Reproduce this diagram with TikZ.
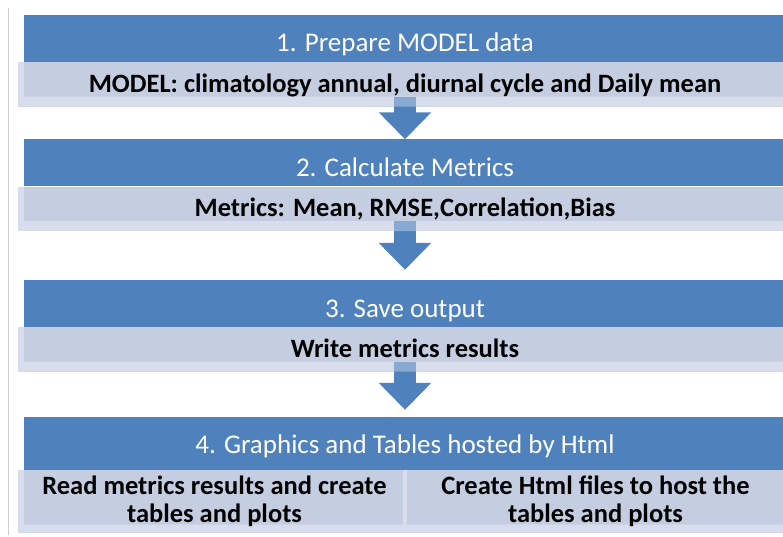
\documentclass[tikz,border=0pt]{standalone}
\usepackage{fontspec}
\setmainfont{Carlito}
\usetikzlibrary{arrows.meta,positioning,backgrounds}

\definecolor{stageblue}{RGB}{79,129,189}
\definecolor{bandgrey}{RGB}{197,206,225}
\definecolor{rulegrey}{RGB}{205,205,205}

\tikzset{
  stagebox/.style={fill=stageblue, text=white, minimum width=762pt, minimum height=47pt,
    inner sep=0pt, text height=27pt, text depth=0pt, font=\fontsize{27}{32}\selectfont},
  bandbox/.style={minimum width=762pt, minimum height=44pt, inner sep=0pt,
    text height=16pt, text depth=0pt, font=\bfseries\fontsize{26.5}{28}\selectfont},
  cellbox/.style={minimum width=381pt, minimum height=62pt, inner sep=0pt, align=center,
    font=\bfseries\fontsize{26.5}{28}\selectfont},
  flow/.style={draw=stageblue, line width=22pt, -{Triangle[width=51pt,length=27pt]}},
  veil/.style={fill=white, fill opacity=.32},
}

\begin{document}
\begin{tikzpicture}[x=1pt,y=-1pt]
\useasboundingbox (0,0) rectangle (783,537);
\draw[rulegrey, line width=1pt] (8,8) -- (8,535);

% stage headers with their bands
\node[stagebox] (s1) at (405,38.5) {1. Prepare MODEL data};
\node[bandbox, below=0pt of s1] (b1) {MODEL: climatology annual, diurnal cycle and Daily mean};

\node[stagebox] (s2) at (405,163) {2. Calculate Metrics};
\node[bandbox, below=0pt of s2] (b2) {Metrics: Mean, RMSE,Correlation,Bias};

\node[stagebox] (s3) at (405,303.5) {3. Save output};
\node[bandbox, below=0pt of s3] (b3) {Write metrics results};

\node[stagebox, minimum height=53pt, text height=19pt] (s4) at (405,443.5) {4. Graphics and Tables hosted by Html};
\node[cellbox, below right=0pt and 0pt of s4.south west] (c1) {Read metrics results and create\\tables and plots};
\node[cellbox, below left=0pt and 0pt of s4.south east] (c2) {Create Html files to host the\\tables and plots};

% band fills, arrows and the lighter edges behind the text
\begin{scope}[on background layer]
  \foreach \bx in {b1,b2,b3}
    \fill[bandgrey] ([xshift=-6pt]\bx.north west) rectangle ([xshift=6pt]\bx.south east);
  \fill[bandgrey] ([xshift=-6pt]c1.north west) rectangle ([xshift=6pt]c2.south east);

  \draw[flow] ([yshift=10pt]b1.south) -- (s2.north);
  \draw[flow, shorten >=10pt] ([yshift=10pt]b2.south) -- (s3.north);
  \draw[flow, shorten >=7pt] ([yshift=10pt]b3.south) -- (s4.north);

  \foreach \bx in {b1,b2,b3}
    \fill[veil] ([xshift=-6pt]\bx.north west) |- ([xshift=6pt]\bx.south east)
      |- ([yshift=10pt]\bx.south west) -- (\bx.north west) -- cycle;
  \fill[veil] ([xshift=-6pt]c1.north west) |- ([xshift=6pt]c2.south east)
    |- ([yshift=8pt]c1.south west) -- (c1.north west) -- cycle;
  \fill[veil] ([xshift=-2pt]c1.north east) rectangle ([xshift=2pt,yshift=8pt]c2.south west);
\end{scope}
\end{tikzpicture}
\end{document}
